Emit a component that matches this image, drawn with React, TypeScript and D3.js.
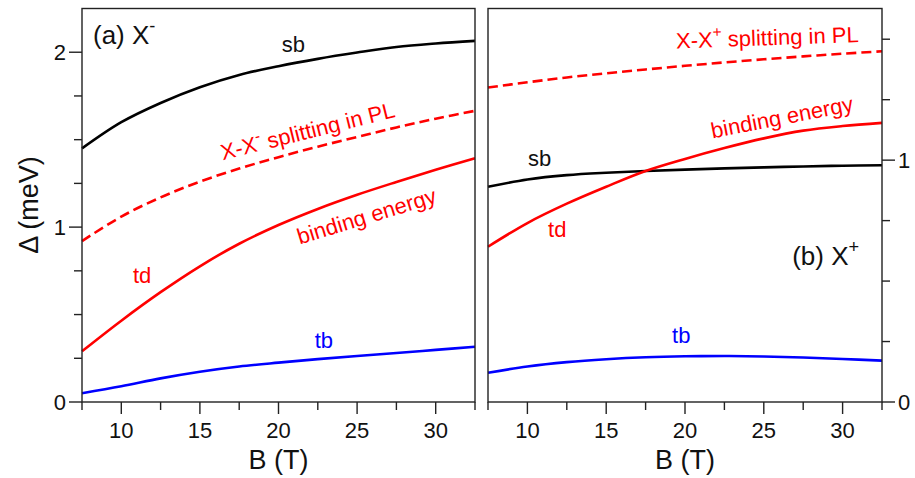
import React from "react";
import * as d3 from "d3";

// ---- data ----
const B = [7.5, 10, 12.5, 15, 17.5, 20, 22.5, 25, 27.5, 30, 32.5];

// panel (a) X-
const aSb = [1.45, 1.6, 1.71, 1.8, 1.87, 1.92, 1.962, 1.998, 2.03, 2.05, 2.065];
const aSplit = [0.92, 1.06, 1.17, 1.26, 1.335, 1.4, 1.46, 1.515, 1.57, 1.62, 1.665];
const aTd = [0.29, 0.465, 0.628, 0.776, 0.905, 1.012, 1.104, 1.185, 1.258, 1.328, 1.394];
const aTb = [0.05, 0.09, 0.135, 0.173, 0.203, 0.225, 0.245, 0.263, 0.28, 0.298, 0.316];

// panel (b) X+
const bSplit = [1.3, 1.322, 1.342, 1.359, 1.375, 1.39, 1.404, 1.417, 1.429, 1.44, 1.45];
const bSb = [0.89, 0.92, 0.938, 0.948, 0.955, 0.961, 0.966, 0.97, 0.974, 0.977, 0.979];
const bTd = [0.642, 0.74, 0.82, 0.89, 0.955, 1.005, 1.05, 1.09, 1.122, 1.141, 1.154];
const bTb = [0.121, 0.147, 0.165, 0.177, 0.185, 0.189, 0.19, 0.188, 0.184, 0.178, 0.171];

const xTicks = [10, 15, 20, 25, 30];
const xMinor = [7.5, 12.5, 17.5, 22.5, 27.5, 32.5];
const aYMajor = [0, 1, 2];
const aYMinor = [0.25, 0.5, 0.75, 1.25, 1.5, 1.75];
const bYMajor = [0, 1];
const bYMinor = [0.25, 0.5, 0.75, 1.25, 1.5];

const FONT = "'Liberation Sans', Arial, Helvetica, sans-serif";
const RED = "#ff0000";
const BLUE = "#0000ff";
const AX = "#222";

type Series = { v: number[]; color: string; dash?: string };
type Label = { t: React.ReactNode; b: number; v: number; rot?: number; size: number; color: string };

function Panel(props: {
  x0: number; x1: number; y0: number; y1: number; yMax: number;
  series: Series[]; labels: Label[]; yMajor: number[]; yMinor: number[]; right: boolean;
}) {
  const { x0, x1, y0, y1, yMax, series, labels, yMajor, yMinor, right } = props;
  const x = d3.scaleLinear().domain([7.5, 32.5]).range([x0, x1]);
  const y = d3.scaleLinear().domain([0, yMax]).range([y1, y0]);
  const line = d3
    .line<number>()
    .x((_, i) => x(B[i]))
    .y((d) => y(d))
    .curve(d3.curveCatmullRom.alpha(0.5));
  const axX = right ? x1 : x0;
  const dir = right ? 1 : -1;
  return (
    <g>
      {series.map((s, i) => (
        <path key={i} d={line(s.v) || ""} fill="none" stroke={s.color} strokeWidth={2.6}
          strokeDasharray={s.dash} />
      ))}
      <rect x={x0} y={y0} width={x1 - x0} height={y1 - y0} fill="none" stroke={AX} strokeWidth={1.4} />
      {xTicks.map((t) => (
        <g key={"xt" + t}>
          <line x1={x(t)} x2={x(t)} y1={y1} y2={y1 + 12} stroke={AX} strokeWidth={1.4} />
          <text x={x(t)} y={437.5} textAnchor="middle" fontSize={22} fontFamily={FONT} fill="#111">{t}</text>
        </g>
      ))}
      {xMinor.map((t) => (
        <line key={"xm" + t} x1={x(t)} x2={x(t)} y1={y1} y2={y1 + 8} stroke={AX} strokeWidth={1.4} />
      ))}
      {yMajor.map((t) => (
        <g key={"yt" + t}>
          <line x1={axX} x2={axX + dir * 13} y1={y(t)} y2={y(t)} stroke={AX} strokeWidth={1.4} />
          <text x={axX + dir * 16} y={y(t)} dy="0.36em" textAnchor={right ? "start" : "end"}
            fontSize={22} fontFamily={FONT} fill="#111">{t}</text>
        </g>
      ))}
      {yMinor.map((t) => (
        <line key={"ym" + t} x1={axX} x2={axX + dir * 8} y1={y(t)} y2={y(t)} stroke={AX} strokeWidth={1.4} />
      ))}
      <text x={(x0 + x1) / 2} y={469} textAnchor="middle" fontSize={27} fontFamily={FONT} fill="#111">B (T)</text>
      {labels.map((l, i) => (
        <text key={"l" + i} x={x(l.b)} y={y(l.v)} fontSize={l.size} fontFamily={FONT} fill={l.color}
          transform={l.rot ? `rotate(${l.rot} ${x(l.b)} ${y(l.v)})` : undefined}>{l.t}</text>
      ))}
    </g>
  );
}

function Sup(props: { c: string; size: number }) {
  return (
    <tspan dy={-props.size * 0.45} fontSize={props.size * 0.7}>{props.c}</tspan>
  );
}

export default function App() {
  const aLabels: Label[] = [
    { t: <>(a) X<Sup c="-" size={26} /></>, b: 8.2, v: 2.046, size: 26, color: "#111" },
    { t: "sb", b: 20.2, v: 2.0, size: 22, color: "#111" },
    { t: <>X-X<Sup c="-" size={22} /><tspan dy={22 * 0.45}> splitting in PL</tspan></>, b: 16.45, v: 1.383, rot: -14, size: 22, color: RED },
    { t: "binding energy", b: 21.35, v: 0.9, rot: -17, size: 22, color: RED },
    { t: "td", b: 10.74, v: 0.68, size: 22, color: RED },
    { t: "tb", b: 22.3, v: 0.309, size: 22, color: BLUE },
  ];
  const bLabels: Label[] = [
    { t: <>X-X<Sup c="+" size={22} /><tspan dy={22 * 0.45}> splitting in PL</tspan></>, b: 19.45, v: 1.462, rot: -2, size: 22, color: RED },
    { t: "binding energy", b: 21.75, v: 1.09, rot: -11, size: 22, color: RED },
    { t: "sb", b: 10.04, v: 0.976, size: 22, color: "#111" },
    { t: "td", b: 11.31, v: 0.682, size: 22, color: RED },
    { t: <>(b) X<Sup c="+" size={26} /></>, b: 26.8, v: 0.567, size: 26, color: "#111" },
    { t: "tb", b: 19.18, v: 0.244, size: 22, color: BLUE },
  ];
  return (
    <svg width={915} height={478} style={{ position: "absolute", left: 0, top: 0, background: "#fff" }}>
      <Panel x0={82} x1={475} y0={8.5} y1={402} yMax={2.25}
        series={[
          { v: aSb, color: "#000" },
          { v: aSplit, color: RED, dash: "10,5" },
          { v: aTd, color: RED },
          { v: aTb, color: BLUE },
        ]}
        labels={aLabels} yMajor={aYMajor} yMinor={aYMinor} right={false} />
      <Panel x0={488} x1={882} y0={8.5} y1={402} yMax={1.627}
        series={[
          { v: bSb, color: "#000" },
          { v: bSplit, color: RED, dash: "10,5" },
          { v: bTd, color: RED },
          { v: bTb, color: BLUE },
        ]}
        labels={bLabels} yMajor={bYMajor} yMinor={bYMinor} right={true} />
      <text transform="translate(38,205) rotate(-90)" textAnchor="middle" fontSize={27}
        fontFamily={FONT} fill="#111">Δ (meV)</text>
    </svg>
  );
}
